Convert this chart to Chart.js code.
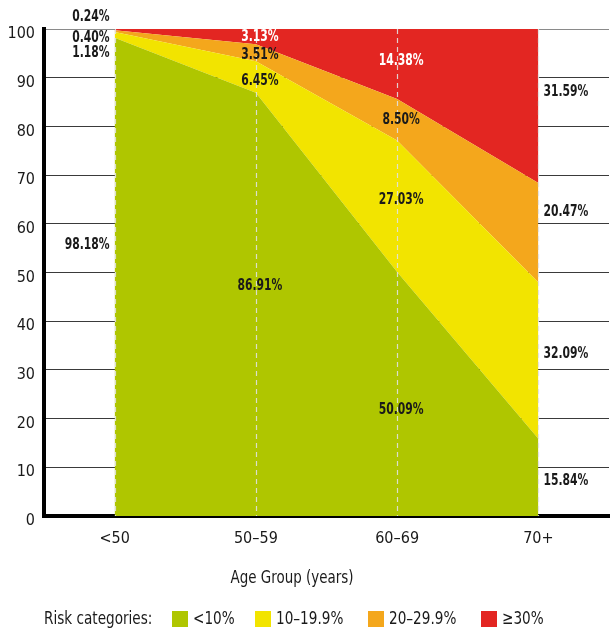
<!DOCTYPE html>
<html>
<head>
<meta charset="utf-8">
<script src="https://cdn.jsdelivr.net/npm/chart.js@4"></script>
<style>
  html, body { margin: 0; padding: 0; background: #fff; }
  #wrap { width: 615px; height: 631px; }
</style>
</head>
<body>
<div id="wrap"><canvas id="riskChart" width="615" height="631"></canvas></div>
<script>
/* data */
const ageGroups = ["<50", "50–59", "60–69", "70+"];
const riskLow = [98.18, 86.91, 50.09, 15.84];      // <10%
const riskMid = [1.18, 6.45, 27.03, 32.09];        // 10–19.9%
const riskHigh = [0.40, 3.51, 8.50, 20.47];        // 20–29.9%
const riskVeryHigh = [0.24, 3.13, 14.38, 31.59];   // >=30%
const riskLabels = ["<10%", "10–19.9%", "20–29.9%", "≥30%"];
const riskColors = ["#afc600", "#f2e400", "#f4a71c", "#e32622"];

const FONT = "'Liberation Sans Narrow', 'DejaVu Sans Condensed', 'Arial Narrow', sans-serif";

// pixel nudges for the value labels, [series][column]
const labelNudge = [
  [-32, -18, 16, 4],
  [18, 4, -6, -7],
  [7, 2, 0, -21],
  [-12, 0, -3, -14],
];

const series = [riskLow, riskMid, riskHigh, riskVeryHigh];

// the original uses a condensed face, so squeeze text a bit horizontally
function squeezedText(ctx, text, x, y, align, sx) {
  ctx.save();
  ctx.translate(x, y);
  ctx.scale(sx, 1);
  ctx.textAlign = align;
  ctx.fillText(text, 0, 0);
  ctx.restore();
}

/* value labels + dashed category lines */
const overlayPlugin = {
  id: "overlay",
  afterDatasetsDraw(chart) {
    const { ctx, chartArea, scales } = chart;
    const xs = scales.x, ys = scales.y;

    // dashed verticals
    ctx.save();
    ctx.strokeStyle = "rgba(225,225,225,0.9)";
    ctx.lineWidth = 1.2;
    ctx.setLineDash([5, 4]);
    ageGroups.forEach((g, j) => {
      const x = Math.round(xs.getPixelForValue(j)) + 0.5;
      ctx.beginPath();
      ctx.moveTo(x, chartArea.top);
      ctx.lineTo(x, chartArea.bottom);
      ctx.stroke();
    });
    ctx.restore();

    // labels
    ctx.save();
    ctx.font = "bold 15px " + FONT;
    ctx.textBaseline = "middle";
    ageGroups.forEach((g, j) => {
      let base = 0;
      series.forEach((arr, i) => {
        const v = arr[j];
        const mid = base + v / 2;
        base += v;
        let x = xs.getPixelForValue(j);
        const y = ys.getPixelForValue(mid) + labelNudge[i][j];
        let align = "center";
        if (j === 0) { align = "right"; x -= 5; }
        else if (j === ageGroups.length - 1) { align = "left"; x += 5; }
        else { x += 4; }
        const inside = j > 0 && j < ageGroups.length - 1;
        ctx.fillStyle = (i === 3 && inside) ? "#ffffff" : "#1a1a1a";
        squeezedText(ctx, v.toFixed(2) + "%", x, y, align, 0.8);
      });
    });
    ctx.restore();
  },
  afterDraw(chart) {
    const { ctx } = chart;
    ctx.save();
    ctx.fillStyle = "#1a1a1a";
    ctx.textBaseline = "middle";
    ctx.font = "18px " + FONT;
    // axis title
    squeezedText(ctx, "Age Group (years)", 292, 578, "center", 0.83);
    // legend
    squeezedText(ctx, "Risk categories:", 44, 619, "left", 0.84);
    const boxX = [172, 255, 368, 481];
    riskLabels.forEach((lbl, i) => {
      ctx.fillStyle = riskColors[i];
      ctx.fillRect(boxX[i], 611, 16, 16);
      ctx.fillStyle = "#1a1a1a";
      squeezedText(ctx, lbl, boxX[i] + 21, 619, "left", 0.84);
    });
    ctx.restore();
  },
};

new Chart(document.getElementById("riskChart").getContext("2d"), {
  type: "line",
  data: {
    labels: ageGroups,
    datasets: series.map((arr, i) => ({
      label: riskLabels[i],
      data: arr,
      backgroundColor: riskColors[i],
      borderWidth: 0,
      pointRadius: 0,
      tension: 0,
      fill: i === 0 ? "origin" : "-1",
    })),
  },
  options: {
    responsive: false,
    animation: false,
    layout: { padding: { left: 0, right: 6, top: 29, bottom: 0 } },
    plugins: {
      legend: { display: false },
      tooltip: { enabled: false },
    },
    scales: {
      x: {
        type: "category",
        offset: true,
        grid: { display: false, drawTicks: false },
        border: { color: "#000", width: 4 },
        ticks: { color: "#1a1a1a", font: { family: FONT, size: 16 }, padding: 13 },
        afterFit: (s) => { s.height = 115; },
      },
      y: {
        stacked: true,
        min: 0,
        max: 100,
        grid: {
          drawTicks: false,
          color: (c) => (c.tick && c.tick.value === 100 ? "#8a8a8a" : "#3a3a3a"),
          lineWidth: 1,
        },
        border: { color: "#000", width: 4 },
        ticks: {
          stepSize: 10,
          color: "#1a1a1a",
          font: { family: FONT, size: 16 },
          padding: 9,
          labelOffset: 5,
        },
        afterFit: (s) => { s.width = 44; },
      },
    },
  },
  plugins: [overlayPlugin],
});
</script>
</body>
</html>
